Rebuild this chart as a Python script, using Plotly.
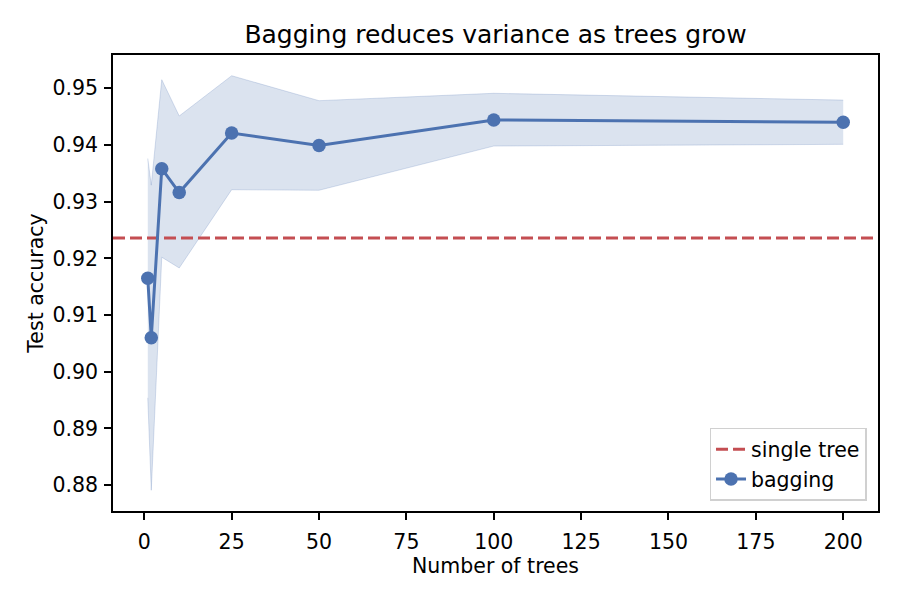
import plotly.graph_objects as go

# ---- data ----
n_trees = [1, 2, 5, 10, 25, 50, 100, 200]
bag_mean = [0.9165, 0.9060, 0.9358, 0.9316, 0.9421, 0.9399, 0.9444, 0.9440]
bag_upper = [0.9376, 0.9329, 0.9515, 0.9451, 0.9522, 0.9478, 0.9491, 0.9479]
bag_lower = [0.8954, 0.8791, 0.9202, 0.9183, 0.9321, 0.9320, 0.9398, 0.9401]
single_tree_acc = 0.9236
x_ticks = [0, 25, 50, 75, 100, 125, 150, 175, 200]
y_ticks = [0.88, 0.89, 0.90, 0.91, 0.92, 0.93, 0.94, 0.95]

BLUE = "#4c72b0"
RED = "#c44e52"
FONT = "DejaVu Sans"

# axis limits like matplotlib's 5% auto-margins
xmin, xmax = min(n_trees), max(n_trees)
xpad = 0.05 * (xmax - xmin)
x_range = [xmin - xpad, xmax + xpad]
ymin = min(bag_lower + [single_tree_acc])
ymax = max(bag_upper + [single_tree_acc])
ypad = 0.05 * (ymax - ymin)
y_range = [ymin - ypad, ymax + ypad]

fig = go.Figure()

# variance band
fig.add_trace(go.Scatter(
    x=n_trees, y=bag_upper, mode="lines",
    line=dict(color="rgba(76,114,176,0.22)", width=1),
    showlegend=False, hoverinfo="skip"))
fig.add_trace(go.Scatter(
    x=n_trees, y=bag_lower, mode="lines",
    line=dict(color="rgba(76,114,176,0.22)", width=1),
    fill="tonexty", fillcolor="rgba(76,114,176,0.2)",
    showlegend=False, hoverinfo="skip"))

# single tree baseline spanning the axis
fig.add_trace(go.Scatter(
    x=x_range, y=[single_tree_acc, single_tree_acc], mode="lines",
    name="single tree",
    line=dict(color=RED, width=3, dash="12px,5px")))

# bagging mean
fig.add_trace(go.Scatter(
    x=n_trees, y=bag_mean, mode="lines+markers", name="bagging",
    line=dict(color=BLUE, width=3),
    marker=dict(color=BLUE, size=13.5)))

axis_common = dict(
    showline=True, linecolor="black", linewidth=1.7, mirror=True,
    ticks="outside", ticklen=7, tickwidth=1.7, tickcolor="black",
    showgrid=False, zeroline=False,
    tickfont=dict(family=FONT, size=20.5, color="black"),
)

fig.update_layout(
    width=900, height=600,
    margin=dict(l=113, r=22, t=55, b=89),
    paper_bgcolor="white", plot_bgcolor="white",
    font=dict(family=FONT, color="black"),
    title=dict(text="Bagging reduces variance as trees grow",
               x=(113 + 878) / 2 / 900, xanchor="center",
               y=1 - 34 / 600, yanchor="middle", yref="container",
               font=dict(family=FONT, size=25, color="black")),
    xaxis=dict(range=x_range, tickvals=x_ticks,
               ticktext=[str(v) for v in x_ticks],
               ticklabelstandoff=5,
               title=dict(text="Number of trees",
                          font=dict(family=FONT, size=20.5, color="black"),
                          standoff=5),
               **axis_common),
    yaxis=dict(range=y_range, tickvals=y_ticks,
               ticktext=[f"{v:.2f}" for v in y_ticks],
               ticklabelstandoff=2,
               title=dict(text="Test accuracy",
                          font=dict(family=FONT, size=20.5, color="black"),
                          standoff=3),
               **axis_common),
    legend=dict(x=0.985, y=0.022, xanchor="right", yanchor="bottom",
                traceorder="normal",
                bgcolor="rgba(255,255,255,0.8)", bordercolor="#d0d0d0",
                borderwidth=1.5,
                font=dict(family=FONT, size=20.5, color="black")),
)

fig.write_html("out.html")
